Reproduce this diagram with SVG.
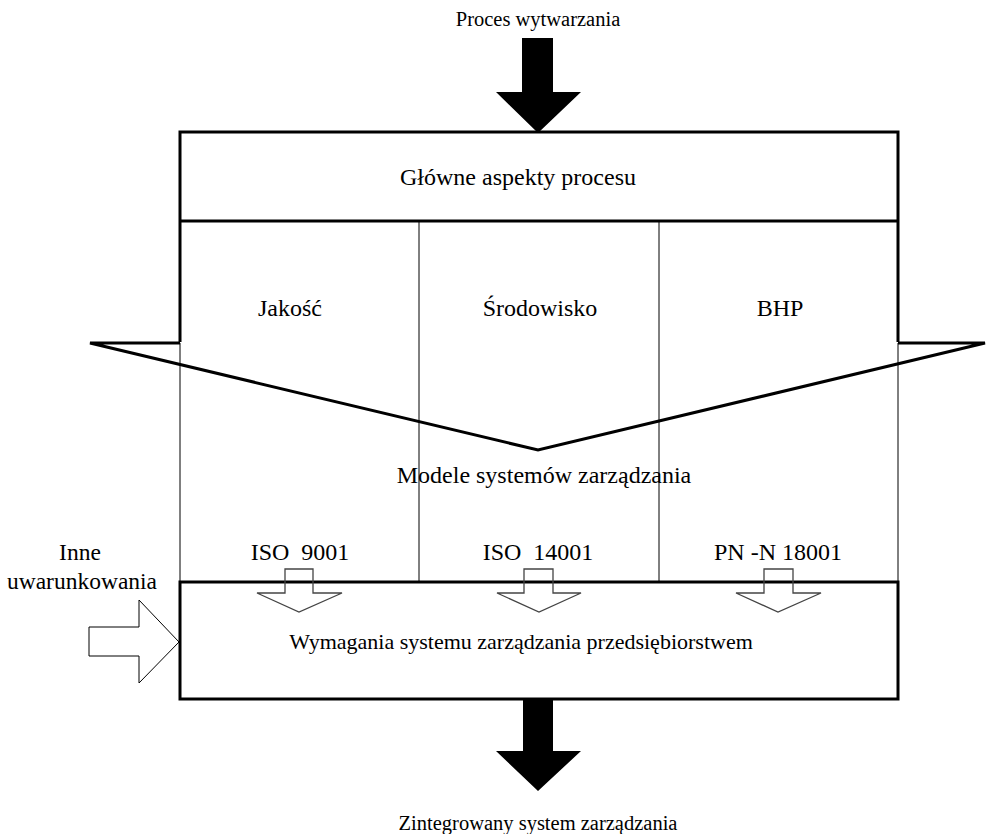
<svg xmlns="http://www.w3.org/2000/svg" width="986" height="834" viewBox="0 0 986 834">
<style>
text{font-family:"Liberation Serif","Times New Roman",serif;font-size:24px;fill:#000;text-anchor:middle}
.thick{fill:none;stroke:#000;stroke-width:3;stroke-linejoin:miter}
.thin{fill:none;stroke:#000;stroke-width:1}
.solid{fill:#000;stroke:none}
.hollow{fill:none;stroke:#444;stroke-width:1.3}
.hollowb{fill:#fff;stroke:#000;stroke-width:1}
</style>
<rect width="986" height="834" fill="#fff"/>
<g id="connectors">
<path id="arrow-top" class="solid" d="M522,38 H553 V92 H581 L538,133 L496,92 H522 Z"/>
<path id="arrow-bottom" class="solid" d="M523,699 H553 V751 H581 L538,791 L496,751 H523 Z"/>
<path id="arrow-left" class="hollowb" d="M89,627 H139 V600 L179,642 L139,683 V656 H89 Z"/>
</g>
<g id="main-frame">
<path class="thick" d="M180,342 V132 H898 V342"/>
<line class="thick" x1="180" y1="221" x2="898" y2="221"/>
<path class="thick" d="M180,343 H90 L538,450 L985,343 H898"/>
<line class="thin" x1="180" y1="343" x2="180" y2="582"/>
<line class="thin" x1="898" y1="343" x2="898" y2="582"/>
<line class="thin" x1="419" y1="221" x2="419" y2="582"/>
<line class="thin" x1="659" y1="221" x2="659" y2="582"/>
</g>
<g id="n-proces"><text x="538" y="26" style="font-size:20.5px">Proces wytwarzania</text></g>
<g id="n-glowne"><text x="518" y="185">Główne aspekty procesu</text></g>
<g id="n-jakosc"><text x="290" y="316">Jakość</text></g>
<g id="n-srodowisko"><text x="540" y="316">Środowisko</text></g>
<g id="n-bhp"><text x="780" y="316">BHP</text></g>
<g id="n-modele"><text x="544" y="483">Modele systemów zarządzania</text></g>
<g id="n-iso9001"><text x="300" y="560" xml:space="preserve">ISO  9001</text></g>
<g id="n-iso14001"><text x="538" y="560" xml:space="preserve">ISO  14001</text></g>
<g id="n-pn18001"><text x="778" y="560">PN -N 18001</text></g>
<g id="n-inne"><text x="80" y="560" style="font-size:23.5px">Inne</text><text x="82" y="589" style="font-size:23.5px">uwarunkowania</text></g>
<g id="n-wymagania">
<rect class="thick" x="180" y="582" width="718" height="117"/>
<text x="521" y="649" style="font-size:22px">Wymagania systemu zarządzania przedsiębiorstwem</text>
</g>
<g id="small-arrows">
<path class="hollow" d="M285,569 H313 V593 H342 L299,612 L257,593 H285 Z"/>
<path class="hollow" d="M524,569 H553 V593 H581 L539,612 L497,593 H524 Z"/>
<path class="hollow" d="M764,569 H793 V593 H821 L778,612 L736,593 H764 Z"/>
</g>
<g id="n-zintegrowany"><text x="538" y="830" style="font-size:20.5px">Zintegrowany system zarządzania</text></g>
</svg>
